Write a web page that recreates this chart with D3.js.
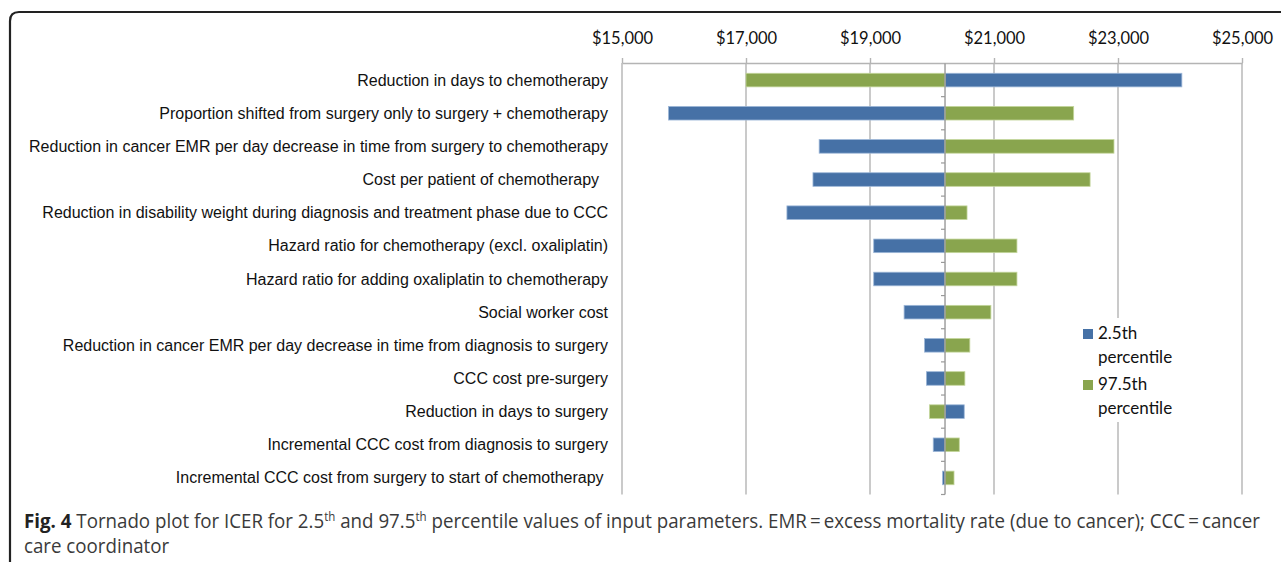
<!doctype html>
<html>
<head>
    <meta charset="UTF-8">
    <title>Tornado plot</title>
    <script src="https://d3js.org/d3.v7.min.js"></script>
    <style>
        body { margin: 0; background: #fff; }
        svg { display: block; }
        .cat { font-family: "Liberation Sans", Arial, sans-serif; font-size: 16px; fill: #111; white-space: pre; }
        .axis text { font-family: Lato, "Open Sans", sans-serif; font-size: 16.5px; fill: #111; }
        .leg { font-family: Lato, "Open Sans", sans-serif; font-size: 17px; fill: #111; }
        .cap { font-family: "Open Sans", "Noto Sans", sans-serif; font-size: 19.5px; fill: #3a3a3a; }
    </style>
</head>
<body>
<svg width="1281" height="562"></svg>
<script>
    // parameters, top to bottom
    var categories = [
        "Reduction in days to chemotherapy",
        "Proportion shifted from surgery only to surgery + chemotherapy",
        "Reduction in cancer EMR per day decrease in time from surgery to chemotherapy",
        "Cost per patient of chemotherapy  ",
        "Reduction in disability weight during diagnosis and treatment phase due to CCC",
        "Hazard ratio for chemotherapy (excl. oxaliplatin)",
        "Hazard ratio for adding oxaliplatin to chemotherapy",
        "Social worker cost",
        "Reduction in cancer EMR per day decrease in time from diagnosis to surgery",
        "CCC cost pre-surgery",
        "Reduction in days to surgery",
        "Incremental CCC cost from diagnosis to surgery",
        "Incremental CCC cost from surgery to start of chemotherapy "
    ];
    // ICER at 2.5th percentile of each input
    var p025 = [24030, 15750, 18180, 18080, 17660, 19060, 19060, 19550, 19880, 19910, 20520, 20020, 20170];
    // ICER at 97.5th percentile of each input
    var p975 = [17000, 22285, 22935, 22550, 20565, 21370, 21370, 20950, 20610, 20530, 19960, 20440, 20355];
    var baseIcer = 20210;
    var xTicks = [15000, 17000, 19000, 21000, 23000, 25000];
    var seriesNames = ["2.5th", "97.5th"];

    var blue = "#4671a6", green = "#89a54e";
    var gridColor = "#b4b4b4";

    var svg = d3.select("svg");

    // frame round figure
    svg.append("path")
        .attr("d", "M10,600 V21 Q10,12 19,12 H1300")
        .attr("fill", "none")
        .attr("stroke", "#222")
        .attr("stroke-width", 2.2);

    var x = d3.scaleLinear().domain([15000, 25000]).range([622, 1242]);
    var y = d3.scaleBand().domain(categories).range([63.5, 494.5]);
    var barH = y.bandwidth() * 0.41;

    // gridlines
    svg.append("g").selectAll("line")
        .data(xTicks).enter().append("line")
        .attr("x1", function (d) { return x(d); })
        .attr("x2", function (d) { return x(d); })
        .attr("y1", 63)
        .attr("y2", 494.5)
        .attr("stroke", gridColor)
        .attr("stroke-width", 1.4);

    // top axis
    var axis = svg.append("g")
        .attr("class", "axis")
        .attr("transform", "translate(0,63)")
        .call(d3.axisTop(x).tickValues(xTicks).tickFormat(d3.format("$,")).tickSize(5).tickSizeOuter(0).tickPadding(14));
    axis.select(".domain").attr("stroke", gridColor).attr("stroke-width", 1.4);
    axis.selectAll(".tick line").attr("stroke", gridColor).attr("stroke-width", 1.4);

    // category labels
    svg.append("g").selectAll("text")
        .data(categories).enter().append("text")
        .attr("class", "cat")
        .attr("x", 608)
        .attr("y", function (d) { return y(d) + y.bandwidth() / 2 + 5.5; })
        .attr("text-anchor", "end")
        .text(function (d) { return d; });

    // bars
    function drawBars(values, color, stroke) {
        svg.append("g").selectAll("rect")
            .data(values).enter().append("rect")
            .attr("x", function (d) { return x(Math.min(d, baseIcer)); })
            .attr("y", function (d, i) { return y(categories[i]) + (y.bandwidth() - barH) / 2; })
            .attr("width", function (d) { return Math.abs(x(d) - x(baseIcer)); })
            .attr("height", barH)
            .attr("fill", color)
            .attr("stroke", stroke)
            .attr("stroke-width", 0.8);
    }
    drawBars(p025, blue, "#9db7d8");
    drawBars(p975, green, "#c4d69c");

    // centre axis at base ICER
    var cx = x(baseIcer);
    svg.append("line")
        .attr("x1", cx).attr("x2", cx)
        .attr("y1", 63.5).attr("y2", 494.5)
        .attr("stroke", "#999").attr("stroke-width", 1.4);
    svg.append("g").selectAll("line")
        .data(categories).enter().append("line")
        .attr("x1", cx - 4).attr("x2", cx)
        .attr("y1", function (d) { return y(d) + y.bandwidth(); })
        .attr("y2", function (d) { return y(d) + y.bandwidth(); })
        .attr("stroke", "#999").attr("stroke-width", 1.2);

    // legend
    var leg = svg.append("g");
    leg.append("rect")
        .attr("x", 1076).attr("y", 318).attr("width", 118).attr("height", 104)
        .attr("fill", "#fff");
    var legItems = leg.selectAll("g.item")
        .data(seriesNames).enter().append("g")
        .attr("class", "item")
        .attr("transform", function (d, i) { return "translate(1083," + (329 + i * 51) + ")"; });
    legItems.append("rect")
        .attr("width", 10).attr("height", 10)
        .attr("fill", function (d, i) { return i === 0 ? blue : green; });
    legItems.append("text")
        .attr("class", "leg")
        .attr("x", 15).attr("y", 10)
        .text(function (d) { return d; });
    legItems.append("text")
        .attr("class", "leg")
        .attr("x", 15).attr("y", 34)
        .text("percentile");

    // caption
    var cap1 = svg.append("text").attr("class", "cap").attr("transform", "translate(24,528)");
    cap1.append("tspan").attr("font-weight", "bold").attr("fill", "#222").text("Fig. 4");
    cap1.append("tspan").text(" Tornado plot for ICER for 2.5");
    cap1.append("tspan").attr("dy", -7).attr("font-size", "12px").text("th");
    cap1.append("tspan").attr("dy", 7).text(" and 97.5");
    cap1.append("tspan").attr("dy", -7).attr("font-size", "12px").text("th");
    cap1.append("tspan").attr("dy", 7).text(" percentile values of input parameters. EMR\u2009=\u2009excess mortality rate (due to cancer); CCC\u2009=\u2009cancer");
    var cap2 = svg.append("text").attr("class", "cap").attr("transform", "translate(24,553)").text("care coordinator");

    var sx = 1236 / cap1.node().getComputedTextLength();
    cap1.attr("transform", "translate(24,528) scale(" + sx + ",1)");
    cap2.attr("transform", "translate(24,553) scale(" + sx + ",1)");
</script>
</body>
</html>
